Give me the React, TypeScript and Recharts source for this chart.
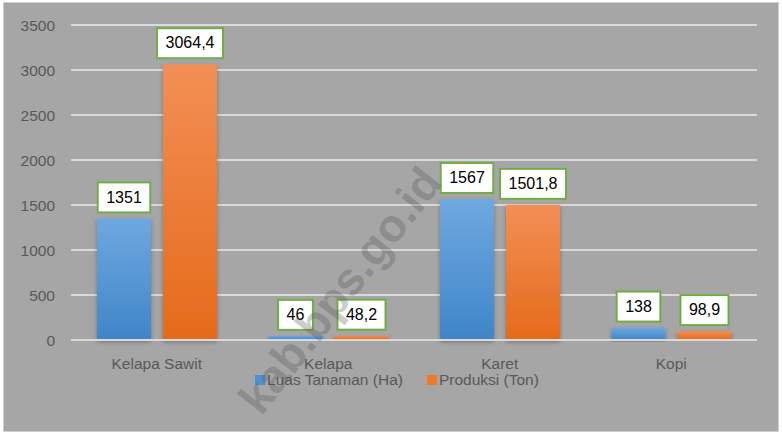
import React from "react";
import {
  BarChart,
  Bar,
  XAxis,
  YAxis,
  CartesianGrid,
  LabelList,
} from "recharts";

const categories = ["Kelapa Sawit", "Kelapa", "Karet", "Kopi"];
const luasTanaman = [1351, 46, 1567, 138];
const produksi = [3064.4, 48.2, 1501.8, 98.9];
const yTicks = [0, 500, 1000, 1500, 2000, 2500, 3000, 3500];
const seriesNames = ["Luas Tanaman (Ha)", "Produksi (Ton)"];

const data = categories.map((name, i) => ({
  name,
  luas: luasTanaman[i],
  produksi: produksi[i],
}));

const axisFont = "Liberation Sans, Arial, sans-serif";

const fmt = (v: number) => String(v).replace(".", ",");

function textWidth(s: string) {
  let w = 0;
  for (const ch of s) w += ch === "," ? 4.4 : 8.9;
  return w;
}

function ValueBox(props: any) {
  const { x, y, width, value } = props;
  const label = fmt(value);
  const w = textWidth(label) + 17;
  const h = 30;
  const cx = x + width / 2;
  const top = y - 6 - h;
  return (
    <g>
      <rect
        x={cx - w / 2}
        y={top}
        width={w}
        height={h}
        fill="#ffffff"
        stroke="#70ad47"
        strokeWidth={2}
      />
      <text
        x={cx}
        y={top + h / 2 + 1}
        textAnchor="middle"
        dominantBaseline="middle"
        fontSize={16}
        fontFamily="Liberation Sans, Arial, sans-serif"
        fill="#000"
      >
        {label}
      </text>
    </g>
  );
}

function LegendBox() {
  const colors = ["#4f8fd2", "#f07a2a"];
  return (
    <div
      style={{
        position: "absolute",
        left: 0,
        top: 371,
        width: 782,
        display: "flex",
        justifyContent: "center",
        gap: 24,
        fontSize: 15.5,
        color: "#595959",
        fontFamily: axisFont,
        paddingLeft: 12,
        boxSizing: "border-box",
      }}
    >
      {seriesNames.map((label, i) => (
        <div key={i} style={{ display: "flex", alignItems: "center" }}>
          <svg width={10} height={10} style={{ marginRight: 2 }}>
            <rect width={10} height={10} fill={colors[i]} />
          </svg>
          <span>{label}</span>
        </div>
      ))}
    </div>
  );
}

export default function App() {
  return (
    <div
      style={{
        position: "absolute",
        left: 0,
        top: 0,
        width: 782,
        height: 434,
        background: "#ffffff",
        overflow: "hidden",
      }}
    >
      <div
        style={{
          position: "absolute",
          left: 3,
          top: 2,
          width: 776,
          height: 430,
          background: "#a6a6a6",
          border: "1px solid #d0d0d0",
          boxSizing: "border-box",
        }}
      />
      <div style={{ position: "absolute", left: 0, top: 0 }}>
        <BarChart
          width={782}
          height={434}
          data={data}
          margin={{ top: 25, right: 25, left: 0, bottom: 56 }}
          barCategoryGap="15%"
          barGap={12}
        >
          <defs>
            <linearGradient id="gBlue" x1="0" y1="0" x2="0" y2="1">
              <stop offset="0%" stopColor="#6fa8e0" />
              <stop offset="100%" stopColor="#3f85c9" />
            </linearGradient>
            <linearGradient id="gOrange" x1="0" y1="0" x2="0" y2="1">
              <stop offset="0%" stopColor="#f28f55" />
              <stop offset="100%" stopColor="#e56a1a" />
            </linearGradient>
            <filter id="shadow" x="-20%" y="-5%" width="140%" height="115%">
              <feDropShadow dx="0" dy="2" stdDeviation="2" floodColor="#000" floodOpacity="0.3" />
            </filter>
          </defs>
          <CartesianGrid
            vertical={false}
            stroke="#d9d9d9"
            strokeWidth={2}
          />
          <XAxis
            dataKey="name"
            axisLine={{ stroke: "#d9d9d9", strokeWidth: 2 }}
            tickLine={false}
            tickMargin={12}
            height={38}
            tick={{
              fill: "#595959",
              fontSize: 15.5,
              fontFamily: axisFont,
            }}
          />
          <YAxis
            domain={[0, 3500]}
            ticks={yTicks}
            width={71}
            axisLine={false}
            tickLine={false}
            tickMargin={10}
            tick={{
              fill: "#595959",
              fontSize: 15.5,
              fontFamily: axisFont,
            }}
          />
          <Bar
            dataKey="luas"
            name={seriesNames[0]}
            fill="url(#gBlue)"
            barSize={54}
            filter="url(#shadow)"
            isAnimationActive={false}
          >
            <LabelList dataKey="luas" content={ValueBox} />
          </Bar>
          <Bar
            dataKey="produksi"
            name={seriesNames[1]}
            fill="url(#gOrange)"
            barSize={54}
            filter="url(#shadow)"
            isAnimationActive={false}
          >
            <LabelList dataKey="produksi" content={ValueBox} />
          </Bar>
        </BarChart>
      </div>
      <LegendBox />
      <div
        style={{
          position: "absolute",
          left: 340,
          top: 290,
          transform: "translate(-50%, -50%) rotate(-52deg)",
          fontSize: 46,
          fontWeight: "bold",
          fontFamily: "Liberation Sans, Arial, sans-serif",
          color: "rgba(80,80,80,0.3)",
          whiteSpace: "nowrap",
          pointerEvents: "none",
        }}
      >
        kab.bps.go.id
      </div>
    </div>
  );
}
